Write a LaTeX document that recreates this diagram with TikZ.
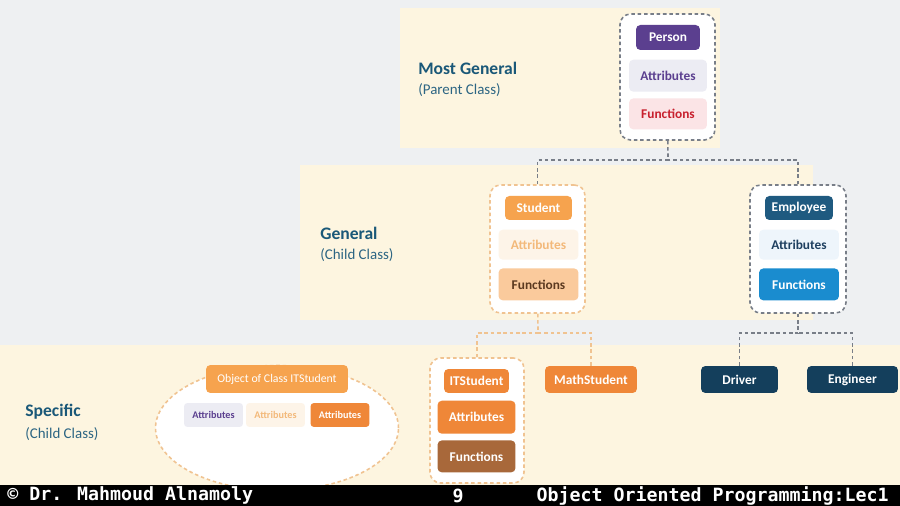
\documentclass[tikz,border=0pt]{standalone}
\usepackage{fontspec}
\setmainfont{Carlito}
\newfontfamily\footmono{DejaVu Sans Mono}
\usetikzlibrary{
  positioning,
  shapes.geometric
}
\definecolor{paper}{RGB}{238,240,242}
\definecolor{cream}{RGB}{253,245,224}
\definecolor{headblue}{RGB}{26,88,120}
\definecolor{grape}{RGB}{91,63,143}
\definecolor{lilac}{RGB}{236,236,243}
\definecolor{blush}{RGB}{251,228,230}
\definecolor{berry}{RGB}{200,32,46}
\definecolor{apricot}{RGB}{246,163,78}
\definecolor{peach}{RGB}{250,202,156}
\definecolor{shell}{RGB}{253,244,232}
\definecolor{sandtext}{RGB}{243,185,122}
\definecolor{cocoa}{RGB}{92,58,32}
\definecolor{tangerine}{RGB}{239,135,56}
\definecolor{bark}{RGB}{168,104,58}
\definecolor{steel}{RGB}{31,90,128}
\definecolor{skyblue}{RGB}{26,140,207}
\definecolor{ice}{RGB}{238,245,251}
\definecolor{ink}{RGB}{31,64,96}
\definecolor{navyish}{RGB}{20,63,92}
\definecolor{slate}{RGB}{120,126,136}
\definecolor{sand}{RGB}{240,195,145}

\begin{document}
\begin{tikzpicture}[x=0.02cm, y=-0.02cm,
  holder/.style={draw=#1, fill=white, line width=0.9pt, dash pattern=on 2pt off 1.6pt, rounded corners=6pt},
  tag/.style={rounded corners=2.5pt, inner sep=0pt, font=\bfseries\fontsize{7.6}{9}\selectfont},
  mini/.style={rounded corners=2pt, inner sep=0pt, minimum width=1.18cm, minimum height=0.48cm, font=\bfseries\fontsize{5.8}{7}\selectfont},
  link/.style={draw=#1, line width=0.9pt, dash pattern=on 2pt off 1.6pt},
  level/.style={anchor=west, inner sep=0pt, text=headblue, font=\bfseries\fontsize{10}{12}\selectfont},
  sublevel/.style={anchor=west, inner sep=0pt, text=headblue!92!white, font=\fontsize{8.5}{10}\selectfont},
  footer/.style={inner sep=0pt, text=white, font=\footmono\bfseries\fontsize{10.4}{12}\selectfont}]

  % backdrop and the three bands
  \fill[paper] (0,0) rectangle (900,506);
  \fill[cream] (400,8) rectangle (720,148);
  \fill[cream] (300,165) rectangle (813,320);
  \fill[cream] (0,345) rectangle (900,485);

  % level labels
  \node[level] (mostgen) at (418,68) {Most General};
  \node[sublevel] (mostgensub) at (418,90) {(Parent Class)};
  \node[level] (gen) at (320,233) {General};
  \node[sublevel] (gensub) at (320,255) {(Child Class)};
  \node[level] (spec) at (25,412) {Specific};
  \node[sublevel] (specsub) at (25,434) {(Child Class)};

  % Person
  \node[holder=slate, minimum width=1.9cm, minimum height=2.52cm] (personbox) at (667.5,77) {};
  \node[tag, fill=grape, text=white, minimum width=1.28cm, minimum height=0.5cm] (person) at (668,37.5) {Person};
  \node[tag, fill=lilac, text=grape, minimum width=1.56cm, minimum height=0.64cm, below=0.18cm of person] (personattr) {Attributes};
  \node[tag, fill=blush, text=berry, minimum width=1.56cm, minimum height=0.62cm, below=0.12cm of personattr] (personfunc) {Functions};

  % Student
  \node[holder=sand, minimum width=1.9cm, minimum height=2.56cm] (studbox) at (537.5,249) {};
  \node[tag, fill=apricot, text=white, minimum width=1.34cm, minimum height=0.48cm] (student) at (538.5,208) {Student};
  \node[tag, fill=shell, text=sandtext, minimum width=1.6cm, minimum height=0.6cm, below=0.18cm of student] (studattr) {Attributes};
  \node[tag, fill=peach, text=cocoa, minimum width=1.6cm, minimum height=0.64cm, below=0.16cm of studattr] (studfunc) {Functions};

  % Employee
  \node[holder=slate, minimum width=1.92cm, minimum height=2.56cm] (empbox) at (798,249) {};
  \node[tag, fill=steel, text=white, minimum width=1.36cm, minimum height=0.48cm] (employee) at (799,208) {Employee};
  \node[tag, fill=ice, text=ink, minimum width=1.6cm, minimum height=0.6cm, below=0.18cm of employee] (empattr) {Attributes};
  \node[tag, fill=skyblue, text=white, minimum width=1.6cm, minimum height=0.64cm, below=0.16cm of empattr] (empfunc) {Functions};

  % ITStudent
  \node[holder=sand, minimum width=1.88cm, minimum height=2.5cm] (itbox) at (477,420.5) {};
  \node[tag, fill=tangerine, text=white, minimum width=1.3cm, minimum height=0.48cm] (itstudent) at (476.5,381) {ITStudent};
  \node[tag, fill=tangerine, text=white, minimum width=1.56cm, minimum height=0.66cm, below=0.14cm of itstudent] (itattr) {Attributes};
  \node[tag, fill=bark, text=white, minimum width=1.56cm, minimum height=0.64cm, below=0.12cm of itattr] (itfunc) {Functions};

  % the other leaves
  \node[tag, fill=tangerine, text=white, minimum width=1.84cm, minimum height=0.54cm] (mathstudent) at (591,379.5) {MathStudent};
  \node[tag, fill=navyish, text=white, minimum width=1.54cm, minimum height=0.54cm] (driver) at (739.5,379.5) {Driver};
  \node[tag, fill=navyish, text=white, minimum width=1.82cm, minimum height=0.54cm] (engineer) at (852.5,379.5) {Engineer};

  % object of ITStudent
  \node[ellipse, draw=sand, fill=white, line width=0.9pt, dash pattern=on 2pt off 1.6pt, minimum width=4.86cm, minimum height=2.5cm] (objring) at (277,428) {};
  \node[tag, fill=apricot, text=white, minimum width=2.84cm, minimum height=0.56cm, font=\fontsize{6.7}{8}\selectfont] (itobject) at (277,379) {Object of Class ITStudent};
  \node[mini, fill=lilac, text=grape] (objattra) at (213.5,415) {Attributes};
  \node[mini, fill=shell, text=sandtext] (objattrb) at (275.5,415) {Attributes};
  \node[mini, fill=tangerine, text=white] (objattrc) at (340,415) {Attributes};

  % connectors
  \coordinate (fork1) at (668,160);
  \coordinate (fork2) at (538,333);
  \coordinate (fork3) at (798,333);
  \draw[link=slate] (personbox) -- (fork1);
  \draw[link=slate] (studbox.north) |- (fork1);
  \draw[link=slate] (empbox.north) |- (fork1);
  \draw[link=sand] (studbox) -- (fork2);
  \draw[link=sand] (itbox.north) |- (fork2);
  \draw[link=sand] (mathstudent.north) |- (fork2);
  \draw[link=slate] (empbox) -- (fork3);
  \draw[link=slate] (driver.north) |- (fork3);
  \draw[link=slate] (engineer.north) |- (fork3);

  % footer bar
  \fill[black] (0,485) rectangle (900,506);
  \node[footer, anchor=west] (credit) at (7,495.5) {© Dr. Mahmoud Alnamoly};
  \node[footer] (pageno) at (458,495.5) {9};
  \node[footer, anchor=east] (course) at (889,495.5) {Object Oriented Programming:Lec1};
\end{tikzpicture}
\end{document}
